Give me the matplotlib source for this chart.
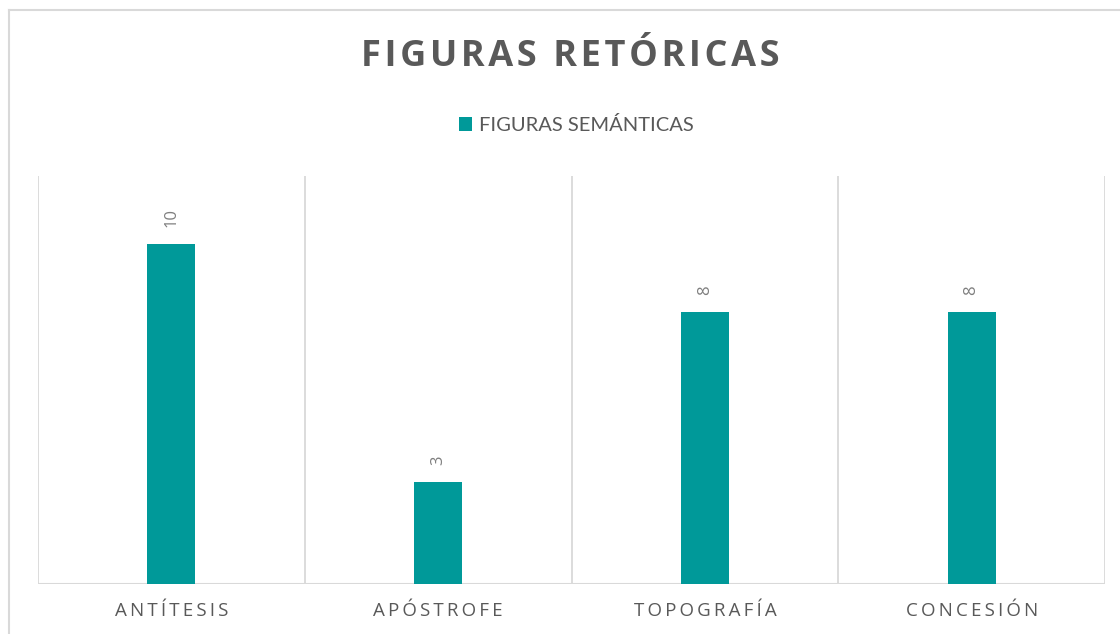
import matplotlib
matplotlib.use("Agg")
import matplotlib.pyplot as plt
from matplotlib.lines import Line2D

categories = ["ANTÍTESIS", "APÓSTROFE", "TOPOGRAFÍA", "CONCESIÓN"]
values = [10, 3, 8, 8]
series_name = "FIGURAS SEMÁNTICAS"
title = "FIGURAS RETÓRICAS"

TEAL = "#009999"
GRID = "#d9d9d9"
TXT = "#595959"
LBL = "#7f7f7f"

def spaced(s, sep="\u2009"):
    return sep.join(s)

fig = plt.figure(figsize=(11.2, 6.34), dpi=100)
fig.patch.set_facecolor("white")

W, H = 1120, 634
ax = fig.add_axes([38 / W, (H - 584) / H, (1105 - 38) / W, (584 - 176) / H])

x = list(range(len(categories)))
bars = ax.bar(x, values, width=0.18, color=TEAL, label=series_name, zorder=3)

ax.set_xlim(-0.5, len(categories) - 0.5)
ax.set_ylim(0, 12)
for b in [i - 0.5 for i in range(len(categories) + 1)]:
    ax.axvline(b, color=GRID, lw=1.3, zorder=1)
ax.axhline(0, color=GRID, lw=1.5, zorder=2)

for s in ax.spines.values():
    s.set_visible(False)
ax.set_yticks([])
ax.set_xticks(x)
ax.set_xticklabels([spaced(c, "\u2009") for c in categories],
                   fontfamily=["Open Sans", "DejaVu Sans"], fontsize=13.5, color=TXT)
ax.tick_params(axis="x", length=0, pad=13)

for xi, v in zip(x, values):
    ax.annotate(str(v), (xi, v), xytext=(0, 12.5), textcoords="offset points",
                rotation=90, ha="center", va="bottom",
                fontfamily="Open Sans", fontsize=12, color=LBL)

fig.text(570 / W, 1 - 57 / H, spaced(title, "\u200a"), ha="center", va="center",
         fontfamily=["Open Sans", "DejaVu Sans"], fontweight="bold",
         fontsize=26, color=TXT)

leg = fig.legend(handles=[bars], labels=[series_name], loc="center",
                 bbox_to_anchor=(576 / W, 1 - 125 / H), frameon=False,
                 prop={"family": "Lato", "size": 14.5},
                 handlelength=0.65, handleheight=0.65, handletextpad=0.35)
for t in leg.get_texts():
    t.set_color(TXT)

# outer chart border
fig.add_artist(Line2D([9 / W, 1.0], [1 - 10 / H, 1 - 10 / H], color=GRID, lw=1.5,
                      transform=fig.transFigure))
fig.add_artist(Line2D([9 / W, 9 / W], [0.0, 1 - 10 / H], color=GRID, lw=1.5,
                      transform=fig.transFigure))

fig.savefig("out.png", dpi=100, facecolor="white")
